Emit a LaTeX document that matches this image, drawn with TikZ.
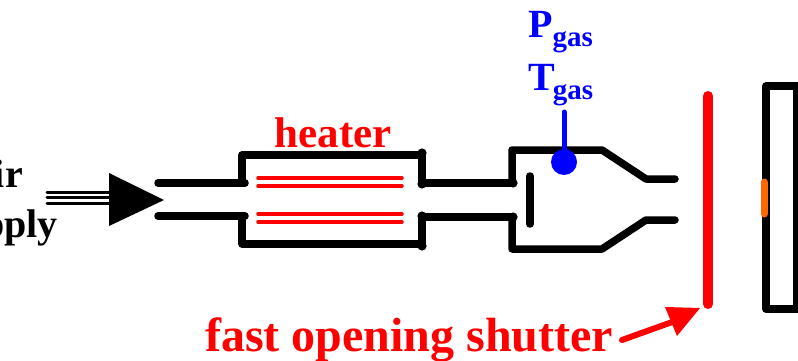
\documentclass[tikz,border=0pt]{standalone}
\usepackage{fontspec}
\setmainfont{Liberation Serif}
\definecolor{pblue}{RGB}{0,0,255}
\definecolor{pred}{RGB}{255,0,0}
\definecolor{porange}{RGB}{255,102,0}
\tikzset{
  pipe/.style={draw=black,line width=7.5pt,line cap=round,line join=round},
  knob/.style={fill=black},
  coil/.style={draw=pred,line width=3.5pt,line cap=round},
  feed/.style={draw=black,line width=3pt,line cap=round},
  lab/.style={inner sep=0pt,font=\bfseries},
}
\begin{document}
\begin{tikzpicture}[x=1pt,y=-1pt]
\useasboundingbox (0,0) rectangle (798,361);
\clip (0,0) rectangle (798,361);
% supply
\draw[feed] (47,192) -- (110,192);
\draw[feed] (47,197.5) -- (110,197.5);
\draw[feed] (47,203) -- (110,203);
\fill[black] (109,173) -- (164,200) -- (109,226) -- cycle;
% heater
\draw[pipe] (158,183) -- (245,183);
\draw[pipe] (158,216) -- (245,216);
\draw[pipe] (242,183) -- (242,155) -- (422,155) -- (422,183) -- (513,183);
\draw[pipe] (242,216) -- (242,244) -- (422,244) -- (422,217) -- (513,217);
\foreach \kx/\ky in {422/153,422/184,422/216,422/246,513/183,513/217}
  \fill[knob] (\kx,\ky) circle (4.6);
\draw[coil] (258,178) -- (402,178);
\draw[coil] (258,186) -- (402,186);
\draw[coil] (258,214) -- (402,214);
\draw[coil] (258,222) -- (402,222);
% chamber
\draw[pipe] (512,182) -- (512,150) -- (602,150) -- (646,179) -- (675,179);
\draw[pipe] (512,217) -- (512,249) -- (602,249) -- (646,220) -- (675,220);
\draw[pipe] (530,176) -- (530,224);
% probe
\draw[draw=pblue,line width=5pt,line cap=round] (564,112) -- (564,150);
\fill[pblue] (564,162) circle (13);
% shutter
\draw[draw=pred,line width=10pt,line cap=round] (708,96) -- (708,304);
% target
\draw[draw=black,line width=7.5pt,line join=round] (798,86) -- (766,86) -- (766,309) -- (798,309);
\draw[draw=black,line width=7.5pt] (797,86) -- (797,309);
\draw[draw=porange,line width=7pt,line cap=round] (764,182) -- (764,214);
% shutter arrow
\draw[draw=pred,line width=6pt,line cap=round] (622,340) -- (675,321);
\fill[pred] (700,308) -- (665,307) -- (677,336) -- cycle;
% text
\node[lab,anchor=base,text=pred,font=\bfseries\fontsize{43}{43}\selectfont] (heater) at (333,147) {heater};
\node[lab,anchor=base west,text=pred,font=\bfseries\fontsize{48}{48}\selectfont] (shutter) at (205,351) {fast opening shutter};
\node[lab,anchor=base east,font=\bfseries\fontsize{40}{40}\selectfont] (air) at (23,187) {air};
\node[lab,anchor=base east,font=\bfseries\fontsize{40}{40}\selectfont] (supply) at (58,237) {supply};
\node[lab,anchor=base west,text=pblue,font=\bfseries\fontsize{40}{40}\selectfont] (p) at (528,38) {P\raisebox{-9pt}{\fontsize{29}{29}\selectfont gas}};
\node[lab,anchor=base west,text=pblue,font=\bfseries\fontsize{40}{40}\selectfont] (t) at (528,91) {T\kern-2pt\raisebox{-9pt}{\fontsize{29}{29}\selectfont gas}};
\end{tikzpicture}
\end{document}
